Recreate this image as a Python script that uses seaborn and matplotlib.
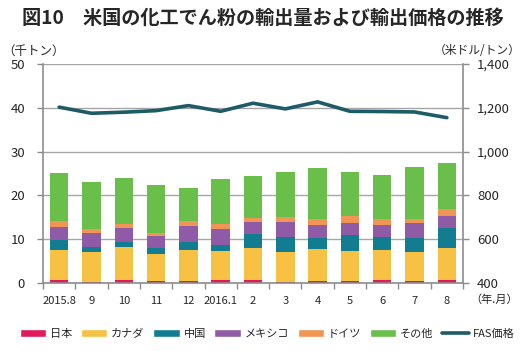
import matplotlib
matplotlib.use("Agg")
import matplotlib.pyplot as plt
import matplotlib.ticker as mticker
from matplotlib.lines import Line2D
from matplotlib.patches import Patch
import numpy as np
import pandas as pd
import seaborn as sns

# data (thousand tonnes)
months = ["2015.8", "9", "10", "11", "12", "2016.1", "2", "3", "4", "5", "6", "7", "8"]
japan = [0.7, 0.3, 0.7, 0.4, 0.4, 0.6, 0.6, 0.3, 0.5, 0.4, 0.6, 0.4, 0.6]
canada = [6.8, 6.8, 7.5, 6.2, 7.1, 6.6, 7.3, 6.7, 7.2, 6.9, 7.0, 6.7, 7.5]
china = [2.3, 1.1, 1.2, 1.3, 1.8, 1.5, 3.2, 3.5, 2.6, 3.7, 2.9, 3.1, 4.5]
mexico = [3.0, 3.2, 3.1, 2.9, 3.7, 3.6, 2.8, 3.4, 2.9, 2.7, 2.7, 3.5, 2.7]
germany = [1.3, 1.0, 1.0, 0.7, 1.1, 1.1, 1.0, 1.1, 1.5, 1.6, 1.5, 1.0, 1.5]
others = [11.1, 10.6, 10.4, 10.8, 7.5, 10.3, 9.6, 10.3, 11.6, 10.0, 10.0, 11.8, 10.6]
fas_price = [1203, 1175, 1180, 1187, 1210, 1184, 1221, 1195, 1227, 1184, 1183, 1181, 1155]

series = {
    "日本": japan,
    "カナダ": canada,
    "中国": china,
    "メキシコ": mexico,
    "ドイツ": germany,
    "その他": others,
}
colors = {
    "日本": "#E2195B",
    "カナダ": "#F7C143",
    "中国": "#127C91",
    "メキシコ": "#8F5BA6",
    "ドイツ": "#F29554",
    "その他": "#6ABF4B",
}
line_color = "#1D5B66"

df = pd.DataFrame(series)
df["month"] = months
cum = df[list(series)].cumsum(axis=1)
cum["month"] = months

sns.set_style("white")
plt.rcParams["font.family"] = ["Noto Sans CJK JP", "DejaVu Sans"]

fig = plt.figure(figsize=(5.23, 3.51), dpi=100)
ax = fig.add_axes([43 / 523, 1 - 283 / 351, 420 / 523, 219 / 351])

# stacked bars: draw cumulative totals from the top down
for name in reversed(list(series)):
    sns.barplot(data=cum, x="month", y=name, order=months, color=colors[name],
                width=0.57, saturation=1, linewidth=0, ax=ax, zorder=2)

ax.set_xlim(-0.5, len(months) - 0.5)
ax.set_ylim(0, 50)
ax.set_yticks(np.arange(0, 51, 10))
ax.set_xlabel("")
ax.set_ylabel("")
ax.yaxis.grid(True, color="#A6A6A6", linewidth=1)
ax.set_axisbelow(True)
for s in ["left", "bottom"]:
    ax.spines[s].set_color("#8C8C8C")
    ax.spines[s].set_linewidth(1.2)
ax.spines["top"].set_visible(False)
ax.spines["right"].set_visible(False)
ax.tick_params(axis="y", which="major", direction="out", length=4, width=1,
               color="#8C8C8C", pad=9, labelsize=9.5, left=True)
ax.tick_params(axis="x", which="major", length=0, pad=9, labelsize=8)
ax.xaxis.set_minor_locator(mticker.FixedLocator(np.arange(-0.5, len(months), 1)))
ax.tick_params(axis="x", which="minor", direction="out", length=4, width=1,
               color="#8C8C8C", bottom=True)

ax2 = ax.twinx()
sns.lineplot(x=np.arange(len(months)), y=fas_price, color=line_color,
             linewidth=2.6, ax=ax2, zorder=5)
ax2.set_ylim(400, 1400)
ax2.set_yticks(np.arange(400, 1401, 200))
ax2.yaxis.set_major_formatter(mticker.FuncFormatter(lambda v, p: f"{int(v):,}"))
for s in ["left", "top", "bottom"]:
    ax2.spines[s].set_visible(False)
ax2.spines["right"].set_color("#8C8C8C")
ax2.spines["right"].set_linewidth(1.2)
ax2.tick_params(axis="y", direction="out", length=4, width=1, color="#8C8C8C",
                pad=6, labelsize=9.5, right=True)
ax2.grid(False)

fig.text(22 / 523, 1 - 18 / 351, "図10　米国の化工でん粉の輸出量および輸出価格の推移",
         fontsize=13.8, fontweight="bold", va="center", ha="left")
fig.text(2 / 523, 1 - 51 / 351, "（千トン）", fontsize=9, va="center", ha="left")
fig.text(521 / 523, 1 - 51 / 351, "（米ドル/トン）", fontsize=8.5, va="center", ha="right")
fig.text(470 / 523, 1 - 300 / 351, "（年.月）", fontsize=8, va="center", ha="left")

handles = [Patch(facecolor=colors[n], label=n) for n in series]
handles.append(Line2D([0], [0], color=line_color, linewidth=2.6, label="FAS価格"))
fig.legend(handles=handles, loc="center", bbox_to_anchor=(267 / 523, 1 - 334 / 351),
           ncol=7, frameon=False, fontsize=8, handlelength=2.4, handleheight=0.7,
           handletextpad=0.35, columnspacing=0.75, borderpad=0, borderaxespad=0)

fig.savefig("out.png", dpi=100)
plt.close(fig)
